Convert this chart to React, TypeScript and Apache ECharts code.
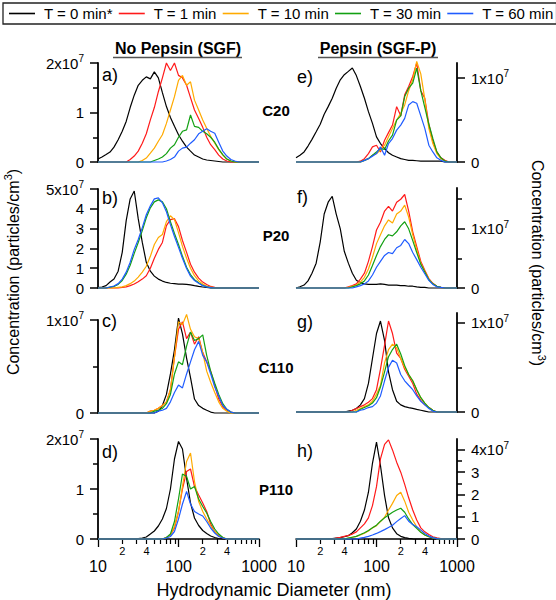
import { useEffect, useRef } from "react";
import * as echarts from "echarts";

const FONT = '"Liberation Sans", Arial, Helvetica, sans-serif';

// Hydrodynamic diameter grid (nm), log spaced
const diameters = [10, 11.2, 12.6, 14.1, 15.8, 17.8, 20, 22.4, 25.1, 28.2, 31.6, 35.5, 39.8, 44.7, 50.1, 56.2, 63.1, 70.8, 79.4, 89.1, 100, 112, 126, 141, 158, 178, 200, 224, 251, 282, 316, 355, 398, 447, 501, 562, 631, 708, 794, 891, 1000];

const seriesNames = ["T = 0 min*", "T = 1 min", "T = 10 min", "T = 30 min", "T = 60 min"];
const seriesColors = ["#000000", "#ff1a1a", "#ffaa00", "#13a013", "#1f5cff"];

// Concentrations in units of 1e7 particles/cm3
// a) No Pepsin, C20
const a_t0 = [0.06, 0.1, 0.15, 0.2, 0.3, 0.45, 0.62, 0.82, 1.1, 1.35, 1.55, 1.65, 1.72, 1.68, 1.82, 1.7, 1.4, 1.12, 0.9, 0.72, 0.55, 0.42, 0.3, 0.22, 0.14, 0.1, 0.06, 0.04, 0.03, 0.02, 0.01, 0, 0, 0, 0, 0, 0, 0, 0, 0, 0];
const a_t1 = [0, 0, 0, 0, 0, 0, 0, 0, 0.05, 0.12, 0.22, 0.38, 0.57, 0.85, 1.1, 1.42, 1.7, 2.0, 1.85, 2.0, 1.75, 1.7, 1.55, 1.3, 1.05, 0.88, 0.7, 0.5, 0.35, 0.25, 0.14, 0.06, 0.02, 0, 0, 0, 0, 0, 0, 0, 0];
const a_t10 = [0, 0, 0, 0, 0, 0, 0, 0, 0, 0, 0, 0.03, 0.08, 0.18, 0.28, 0.42, 0.55, 0.78, 1.05, 1.32, 1.65, 1.75, 1.55, 1.62, 1.25, 1.05, 0.85, 0.68, 0.52, 0.38, 0.25, 0.14, 0.06, 0.02, 0, 0, 0, 0, 0, 0, 0];
const a_t30 = [0, 0, 0, 0, 0, 0, 0, 0, 0, 0, 0, 0, 0, 0, 0.03, 0.06, 0.1, 0.17, 0.28, 0.35, 0.5, 0.62, 0.65, 0.95, 0.72, 0.7, 0.62, 0.57, 0.5, 0.4, 0.26, 0.15, 0.06, 0.02, 0, 0, 0, 0, 0, 0, 0];
const a_t60 = [0, 0, 0, 0, 0, 0, 0, 0, 0, 0, 0, 0, 0, 0, 0, 0, 0, 0.02, 0.05, 0.1, 0.22, 0.28, 0.3, 0.38, 0.45, 0.57, 0.62, 0.67, 0.62, 0.58, 0.4, 0.22, 0.12, 0.05, 0.02, 0, 0, 0, 0, 0, 0];

// b) No Pepsin, P20
const b_t0 = [0.02, 0.05, 0.12, 0.3, 0.45, 0.85, 1.8, 3.4, 4.5, 4.9, 3.5, 2.3, 1.3, 0.85, 0.6, 0.45, 0.35, 0.28, 0.24, 0.22, 0.2, 0.2, 0.18, 0.16, 0.12, 0.08, 0.05, 0.03, 0.01, 0, 0, 0, 0, 0, 0, 0, 0, 0, 0, 0, 0];
const b_t1 = [0, 0, 0, 0, 0, 0, 0.03, 0.06, 0.12, 0.2, 0.32, 0.45, 0.62, 1.0, 1.5, 1.95, 2.3, 3.15, 3.45, 3.5, 3.1, 2.4, 1.8, 1.2, 0.8, 0.5, 0.3, 0.18, 0.08, 0.03, 0.01, 0, 0, 0, 0, 0, 0, 0, 0, 0, 0];
const b_t10 = [0, 0, 0, 0, 0, 0.03, 0.06, 0.12, 0.22, 0.35, 0.55, 0.8, 1.1, 1.6, 2.2, 2.55, 2.7, 3.35, 3.65, 3.45, 2.8, 2.1, 1.5, 1.0, 0.62, 0.36, 0.2, 0.1, 0.04, 0.01, 0, 0, 0, 0, 0, 0, 0, 0, 0, 0, 0];
const b_t30 = [0, 0, 0, 0.04, 0.08, 0.18, 0.38, 0.7, 1.15, 1.75, 2.3, 2.9, 3.55, 4.05, 4.35, 4.45, 4.35, 4.0, 3.35, 2.75, 2.2, 1.6, 1.05, 0.68, 0.42, 0.26, 0.13, 0.06, 0.02, 0, 0, 0, 0, 0, 0, 0, 0, 0, 0, 0, 0];
const b_t60 = [0, 0, 0, 0.05, 0.1, 0.22, 0.45, 0.8, 1.3, 1.95, 2.45, 3.05, 3.7, 4.15, 4.5, 4.55, 4.3, 3.85, 3.2, 2.6, 2.05, 1.5, 0.98, 0.6, 0.38, 0.24, 0.12, 0.06, 0.02, 0, 0, 0, 0, 0, 0, 0, 0, 0, 0, 0, 0];

// c) No Pepsin, C110
const c_t0 = [0, 0, 0, 0, 0, 0, 0, 0, 0, 0, 0, 0, 0, 0, 0, 0.02, 0.08, 0.2, 0.42, 0.68, 1.02, 0.85, 0.59, 0.38, 0.15, 0.08, 0.05, 0.03, 0.01, 0, 0, 0, 0, 0, 0, 0, 0, 0, 0, 0, 0];
const c_t1 = [0, 0, 0, 0, 0, 0, 0, 0, 0, 0, 0, 0, 0, 0.02, 0.03, 0.05, 0.08, 0.12, 0.25, 0.6, 0.9, 0.98, 0.8, 0.87, 0.74, 0.82, 0.65, 0.55, 0.45, 0.3, 0.15, 0.07, 0.03, 0.01, 0, 0, 0, 0, 0, 0, 0];
const c_t10 = [0, 0, 0, 0, 0, 0, 0, 0, 0, 0, 0, 0, 0, 0.02, 0.03, 0.05, 0.08, 0.12, 0.25, 0.6, 0.98, 0.95, 1.06, 0.9, 0.82, 0.8, 0.65, 0.45, 0.33, 0.22, 0.12, 0.05, 0.02, 0, 0, 0, 0, 0, 0, 0, 0];
const c_t30 = [0, 0, 0, 0, 0, 0, 0, 0, 0, 0, 0, 0, 0, 0, 0.02, 0.03, 0.05, 0.1, 0.2, 0.42, 0.55, 0.52, 0.72, 0.87, 0.78, 0.8, 0.84, 0.62, 0.45, 0.32, 0.2, 0.1, 0.04, 0.01, 0, 0, 0, 0, 0, 0, 0];
const c_t60 = [0, 0, 0, 0, 0, 0, 0, 0, 0, 0, 0, 0, 0, 0, 0, 0.02, 0.03, 0.05, 0.12, 0.22, 0.3, 0.27, 0.42, 0.55, 0.68, 0.77, 0.62, 0.55, 0.42, 0.28, 0.18, 0.08, 0.04, 0.01, 0, 0, 0, 0, 0, 0, 0];

// d) No Pepsin, P110
const d_t0 = [0, 0, 0, 0, 0, 0, 0, 0, 0, 0, 0.01, 0.02, 0.04, 0.1, 0.16, 0.26, 0.4, 0.61, 1.0, 1.6, 1.95, 1.8, 1.21, 0.72, 0.42, 0.27, 0.17, 0.11, 0.06, 0.03, 0.01, 0, 0, 0, 0, 0, 0, 0, 0, 0, 0];
const d_t1 = [0, 0, 0, 0, 0, 0, 0, 0, 0, 0, 0, 0, 0, 0, 0, 0, 0, 0.03, 0.08, 0.22, 0.55, 1.0, 1.35, 1.4, 1.05, 0.88, 0.72, 0.55, 0.3, 0.15, 0.06, 0.02, 0, 0, 0, 0, 0, 0, 0, 0, 0];
const d_t10 = [0, 0, 0, 0, 0, 0, 0, 0, 0, 0, 0, 0, 0, 0, 0, 0, 0, 0.03, 0.08, 0.25, 0.55, 1.05, 1.55, 1.72, 1.15, 0.75, 0.55, 0.4, 0.26, 0.15, 0.08, 0.03, 0, 0, 0, 0, 0, 0, 0, 0, 0];
const d_t30 = [0, 0, 0, 0, 0, 0, 0, 0, 0, 0, 0, 0, 0, 0, 0, 0, 0, 0.03, 0.1, 0.35, 0.8, 1.3, 1.25, 1.0, 1.05, 0.8, 0.65, 0.52, 0.35, 0.2, 0.1, 0.03, 0, 0, 0, 0, 0, 0, 0, 0, 0];
const d_t60 = [0, 0, 0, 0, 0, 0, 0, 0, 0, 0, 0, 0, 0, 0, 0, 0, 0, 0.02, 0.05, 0.15, 0.4, 0.7, 0.95, 0.7, 0.55, 0.5, 0.46, 0.35, 0.22, 0.12, 0.05, 0.02, 0, 0, 0, 0, 0, 0, 0, 0, 0];

// e) Pepsin, C20
const e_t0 = [0.05, 0.08, 0.12, 0.19, 0.27, 0.36, 0.45, 0.57, 0.66, 0.76, 0.88, 0.98, 1.04, 1.08, 1.12, 1.03, 0.9, 0.76, 0.6, 0.46, 0.3, 0.22, 0.16, 0.11, 0.08, 0.06, 0.04, 0.03, 0.02, 0.02, 0.015, 0.01, 0.01, 0.01, 0.01, 0.01, 0.01, 0, 0, 0, 0];
const e_t1 = [0, 0, 0, 0, 0, 0, 0, 0, 0, 0, 0, 0, 0, 0, 0, 0, 0.01, 0.04, 0.1, 0.18, 0.2, 0.12, 0.26, 0.35, 0.44, 0.66, 0.55, 0.8, 0.9, 1.02, 1.18, 0.85, 0.76, 0.45, 0.25, 0.12, 0.05, 0.02, 0, 0, 0];
const e_t10 = [0, 0, 0, 0, 0, 0, 0, 0, 0, 0, 0, 0, 0, 0, 0, 0, 0, 0.02, 0.04, 0.08, 0.1, 0.14, 0.2, 0.3, 0.4, 0.5, 0.58, 0.68, 0.85, 0.98, 1.2, 1.05, 0.75, 0.4, 0.22, 0.1, 0.04, 0.01, 0, 0, 0];
const e_t30 = [0, 0, 0, 0, 0, 0, 0, 0, 0, 0, 0, 0, 0, 0, 0, 0, 0, 0.02, 0.04, 0.08, 0.12, 0.16, 0.15, 0.25, 0.32, 0.5, 0.55, 0.78, 0.88, 0.94, 1.12, 0.85, 0.65, 0.45, 0.28, 0.12, 0.05, 0.01, 0, 0, 0];
const e_t60 = [0, 0, 0, 0, 0, 0, 0, 0, 0, 0, 0, 0, 0, 0, 0, 0, 0, 0.02, 0.04, 0.07, 0.1, 0.18, 0.08, 0.22, 0.28, 0.38, 0.44, 0.52, 0.68, 0.72, 0.7, 0.55, 0.4, 0.2, 0.12, 0.05, 0.02, 0, 0, 0, 0];

// f) Pepsin, P20
const f_t0 = [0, 0.02, 0.05, 0.12, 0.25, 0.42, 0.78, 1.25, 1.45, 1.55, 1.25, 1.0, 0.62, 0.42, 0.25, 0.13, 0.09, 0.07, 0.06, 0.06, 0.06, 0.07, 0.06, 0.05, 0.05, 0.05, 0.04, 0.04, 0.03, 0.03, 0.02, 0.01, 0.01, 0, 0, 0, 0, 0, 0, 0, 0];
const f_t1 = [0, 0, 0, 0, 0, 0, 0, 0, 0, 0, 0, 0, 0, 0.02, 0.04, 0.07, 0.15, 0.25, 0.45, 0.7, 0.98, 1.11, 1.3, 1.38, 1.3, 1.45, 1.5, 1.58, 1.3, 0.95, 0.7, 0.45, 0.3, 0.16, 0.08, 0.03, 0.01, 0, 0, 0, 0];
const f_t10 = [0, 0, 0, 0, 0, 0, 0, 0, 0, 0, 0, 0, 0, 0.01, 0.03, 0.05, 0.1, 0.18, 0.32, 0.52, 0.75, 0.9, 1.05, 1.15, 1.1, 1.25, 1.3, 1.4, 1.2, 0.9, 0.65, 0.42, 0.28, 0.15, 0.07, 0.03, 0.01, 0, 0, 0, 0];
const f_t30 = [0, 0, 0, 0, 0, 0, 0, 0, 0, 0, 0, 0, 0, 0, 0.02, 0.04, 0.07, 0.12, 0.22, 0.38, 0.55, 0.7, 0.82, 0.9, 0.88, 0.95, 1.05, 1.12, 1.0, 0.8, 0.6, 0.4, 0.27, 0.14, 0.07, 0.03, 0.01, 0, 0, 0, 0];
const f_t60 = [0, 0, 0, 0, 0, 0, 0, 0, 0, 0, 0, 0, 0, 0, 0, 0.02, 0.04, 0.07, 0.12, 0.22, 0.35, 0.45, 0.55, 0.6, 0.58, 0.68, 0.72, 0.82, 0.75, 0.6, 0.48, 0.35, 0.24, 0.13, 0.06, 0.02, 0.01, 0, 0, 0, 0];

// g) Pepsin, C110
const g_t0 = [0, 0, 0, 0, 0, 0, 0, 0, 0, 0, 0, 0, 0, 0.01, 0.02, 0.04, 0.08, 0.15, 0.32, 0.6, 0.88, 1.02, 0.8, 0.45, 0.25, 0.12, 0.08, 0.06, 0.05, 0.04, 0.03, 0.02, 0.01, 0, 0, 0, 0, 0, 0, 0, 0];
const g_t1 = [0, 0, 0, 0, 0, 0, 0, 0, 0, 0, 0, 0, 0, 0, 0.02, 0.04, 0.06, 0.08, 0.11, 0.15, 0.25, 0.48, 0.75, 1.02, 0.88, 0.66, 0.6, 0.48, 0.4, 0.32, 0.2, 0.13, 0.08, 0.05, 0.02, 0, 0, 0, 0, 0, 0];
const g_t10 = [0, 0, 0, 0, 0, 0, 0, 0, 0, 0, 0, 0, 0, 0, 0, 0.02, 0.04, 0.06, 0.08, 0.12, 0.2, 0.3, 0.55, 0.7, 0.76, 0.72, 0.6, 0.5, 0.42, 0.35, 0.25, 0.16, 0.1, 0.05, 0.02, 0, 0, 0, 0, 0, 0];
const g_t30 = [0, 0, 0, 0, 0, 0, 0, 0, 0, 0, 0, 0, 0, 0, 0, 0, 0.03, 0.05, 0.07, 0.1, 0.16, 0.28, 0.45, 0.62, 0.7, 0.76, 0.65, 0.52, 0.42, 0.35, 0.25, 0.16, 0.1, 0.05, 0.02, 0, 0, 0, 0, 0, 0];
const g_t60 = [0, 0, 0, 0, 0, 0, 0, 0, 0, 0, 0, 0, 0, 0, 0, 0, 0.02, 0.03, 0.05, 0.06, 0.1, 0.18, 0.35, 0.5, 0.58, 0.55, 0.42, 0.35, 0.3, 0.25, 0.18, 0.12, 0.08, 0.04, 0.01, 0, 0, 0, 0, 0, 0];

// h) Pepsin, P110
const h_t0 = [0, 0, 0, 0, 0, 0, 0, 0, 0.01, 0.02, 0.04, 0.06, 0.1, 0.15, 0.28, 0.45, 0.8, 1.3, 2.1, 3.4, 4.35, 3.3, 1.95, 0.95, 0.5, 0.24, 0.12, 0.06, 0.03, 0.01, 0, 0, 0, 0, 0, 0, 0, 0, 0, 0, 0];
const h_t1 = [0, 0, 0, 0, 0, 0, 0, 0, 0, 0, 0.04, 0.07, 0.12, 0.16, 0.22, 0.32, 0.5, 0.68, 0.95, 1.5, 2.35, 3.6, 4.25, 4.45, 4.0, 3.45, 3.0, 2.45, 1.85, 1.3, 0.85, 0.5, 0.32, 0.2, 0.1, 0.05, 0.02, 0.01, 0, 0, 0];
const h_t10 = [0, 0, 0, 0, 0, 0, 0, 0, 0, 0, 0, 0, 0, 0.04, 0.08, 0.12, 0.18, 0.26, 0.36, 0.5, 0.6, 0.78, 0.98, 1.3, 1.6, 1.95, 2.1, 1.7, 1.2, 0.85, 0.55, 0.32, 0.18, 0.1, 0.05, 0.02, 0, 0, 0, 0, 0];
const h_t30 = [0, 0, 0, 0, 0, 0, 0, 0, 0, 0, 0, 0, 0, 0.04, 0.08, 0.12, 0.2, 0.28, 0.38, 0.5, 0.62, 0.8, 0.95, 1.08, 1.2, 1.3, 1.38, 1.2, 0.9, 0.65, 0.48, 0.3, 0.18, 0.1, 0.05, 0.02, 0, 0, 0, 0, 0];
const h_t60 = [0, 0, 0, 0, 0, 0, 0, 0, 0, 0, 0, 0, 0, 0, 0, 0, 0.04, 0.07, 0.12, 0.18, 0.25, 0.33, 0.42, 0.52, 0.62, 0.78, 0.92, 1.05, 0.8, 0.65, 0.55, 0.4, 0.25, 0.13, 0.06, 0.02, 0, 0, 0, 0, 0];

// axis ticks
const xMajorTicks = [10, 100, 1000];
const xMinorTicks = [20, 30, 40, 50, 60, 70, 80, 90, 200, 300, 400, 500, 600, 700, 800, 900];
const xMinorLabels = [20, 40, 200, 400];

const sampleNames = ["C20", "P20", "C110", "P110"];
const panelLetters = ["a)", "b)", "c)", "d)", "e)", "f)", "g)", "h)"];

interface PanelDef {
  col: number;
  row: number;
  top: number;
  height: number;
  max: number;
  major: number[];
  minor: number[];
  labelTop: number;
  letterY: number;
  values: number[][];
}

const panels: PanelDef[] = [
  { col: 0, row: 0, top: 63, height: 99, max: 2, major: [0, 1, 2], minor: [0.5, 1.5], labelTop: 2, letterY: 75, values: [a_t0, a_t1, a_t10, a_t30, a_t60] },
  { col: 0, row: 1, top: 189, height: 99, max: 5, major: [0, 1, 2, 3, 4, 5], minor: [], labelTop: 5, letterY: 198, values: [b_t0, b_t1, b_t10, b_t30, b_t60] },
  { col: 0, row: 2, top: 320, height: 93, max: 1, major: [0, 1], minor: [0.5], labelTop: 1, letterY: 321, values: [c_t0, c_t1, c_t10, c_t30, c_t60] },
  { col: 0, row: 3, top: 439, height: 100, max: 2, major: [0, 1, 2], minor: [0.5, 1.5], labelTop: 2, letterY: 452, values: [d_t0, d_t1, d_t10, d_t30, d_t60] },
  { col: 1, row: 0, top: 63, height: 99, max: 1.18, major: [0, 1], minor: [0.5], labelTop: 1, letterY: 77, values: [e_t0, e_t1, e_t10, e_t30, e_t60] },
  { col: 1, row: 1, top: 188, height: 100, max: 1.69, major: [0, 1], minor: [0.5, 1.5], labelTop: 1, letterY: 197, values: [f_t0, f_t1, f_t10, f_t30, f_t60] },
  { col: 1, row: 2, top: 313, height: 99, max: 1.11, major: [0, 1], minor: [0.5], labelTop: 1, letterY: 322, values: [g_t0, g_t1, g_t10, g_t30, g_t60] },
  { col: 1, row: 3, top: 439, height: 100, max: 4.49, major: [0, 1, 2, 3, 4], minor: [0.5, 1.5, 2.5, 3.5, 4.5], labelTop: 4, letterY: 451, values: [h_t0, h_t1, h_t10, h_t30, h_t60] },
];

function buildOption() {
  const colLeft = [98, 296];
  const plotW = 161;
  const grid: any[] = [];
  const xAxis: any[] = [];
  const yAxis: any[] = [];
  const series: any[] = [];
  const graphic: any[] = [];

  panels.forEach((p, k) => {
    const bottomRow = p.row === 3;
    grid.push({ left: colLeft[p.col], top: p.top, width: plotW, height: p.height, containLabel: false, outerBoundsMode: "none" });
    // major x axis
    xAxis.push({
      type: "log", logBase: 10, min: 10, max: 1000, gridIndex: k, position: "bottom",
      show: bottomRow,
      axisLine: { show: bottomRow, onZero: false, lineStyle: { color: "#000", width: 1.5 } },
      axisTick: { show: bottomRow, customValues: xMajorTicks, length: 8, lineStyle: { color: "#000", width: 1.3 } },
      axisLabel: { show: bottomRow, customValues: xMajorTicks, margin: 19, fontSize: 16, color: "#000", fontFamily: FONT, formatter: (v: number) => String(Math.round(v)) },
      splitLine: { show: false }, minorTick: { show: false }, minorSplitLine: { show: false },
    });
    // minor x axis
    xAxis.push({
      type: "log", logBase: 10, min: 10, max: 1000, gridIndex: k, position: "bottom",
      show: bottomRow,
      axisLine: { show: false, onZero: false },
      axisTick: { show: bottomRow, customValues: xMinorTicks, length: 5, lineStyle: { color: "#000", width: 1.2 } },
      axisLabel: { show: bottomRow, customValues: xMinorLabels, margin: 6, fontSize: 11, color: "#000", fontFamily: FONT, formatter: (v: number) => String(Math.round(v)).charAt(0) },
      splitLine: { show: false },
    });
    const pos = p.col === 0 ? "left" : "right";
    const labelTop = p.labelTop;
    yAxis.push({
      type: "value", min: 0, max: p.max, gridIndex: k, position: pos,
      axisLine: { show: true, onZero: false, lineStyle: { color: "#000", width: 1.8 } },
      axisTick: { show: true, customValues: p.major, length: 8, lineStyle: { color: "#000", width: 1.5 } },
      axisLabel: {
        show: true, customValues: p.major, margin: 14, color: "#000", fontFamily: FONT, fontSize: 15,
        formatter: (v: number) => (Math.abs(v - labelTop) < 1e-9 ? `{m|${Math.round(v)}x10}{s|7}` : `{m|${Math.round(v)}}`),
        rich: {
          m: { fontSize: 15, fontFamily: FONT, color: "#000" },
          s: { fontSize: 10, fontFamily: FONT, color: "#000", padding: [0, 0, 9, 0] },
        },
      },
      splitLine: { show: false },
    });
    yAxis.push({
      type: "value", min: 0, max: p.max, gridIndex: k, position: pos,
      axisLine: { show: false },
      axisTick: { show: p.minor.length > 0, customValues: p.minor.length ? p.minor : [0], length: 5, lineStyle: { color: "#000", width: 1.5 } },
      axisLabel: { show: false },
      splitLine: { show: false },
    });
    p.values.forEach((vals, s) => {
      series.push({
        type: "line",
        name: seriesNames[s],
        xAxisIndex: 2 * k,
        yAxisIndex: 2 * k,
        data: diameters.map((d, j) => [d, vals[j]]),
        showSymbol: false,
        symbol: "none",
        clip: false,
        silent: true,
        animation: false,
        lineStyle: { color: seriesColors[s], width: 1.2 },
        itemStyle: { color: seriesColors[s] },
        emphasis: { disabled: true },
        z: 2 + s,
      });
    });
    graphic.push({
      type: "text",
      x: p.col === 0 ? 102 : 297,
      y: p.letterY,
      style: { text: panelLetters[k], fontSize: 18, fontFamily: FONT, fill: "#000", verticalAlign: "middle", align: "left" },
    });
  });

  // sample names in the middle
  const sampleY = [110, 235, 367, 489];
  sampleNames.forEach((n, r) => {
    graphic.push({
      type: "text", x: 276, y: sampleY[r],
      style: { text: n, fontSize: 15, fontWeight: "bold", fontFamily: FONT, fill: "#000", align: "center", verticalAlign: "middle" },
    });
  });

  // column titles
  graphic.push(
    { type: "text", x: 178, y: 48, style: { text: "No Pepsin (SGF)", fontSize: 16, fontWeight: "bold", fontFamily: FONT, fill: "#000", align: "center", verticalAlign: "middle" } },
    { type: "line", shape: { x1: 113, y1: 57.5, x2: 242, y2: 57.5 }, style: { stroke: "#555", lineWidth: 1.5 } },
    { type: "text", x: 378, y: 48, style: { text: "Pepsin (SGF-P)", fontSize: 16, fontWeight: "bold", fontFamily: FONT, fill: "#000", align: "center", verticalAlign: "middle" } },
    { type: "line", shape: { x1: 318, y1: 57.5, x2: 438, y2: 57.5 }, style: { stroke: "#555", lineWidth: 1.5 } },
  );

  // axis titles
  const richTitle = {
    n: { fontSize: 16, fontFamily: FONT, fill: "#000", color: "#000" },
    s: { fontSize: 11, fontFamily: FONT, fill: "#000", color: "#000", padding: [0, 0, 10, 0] },
  };
  graphic.push(
    {
      type: "text", x: 13, y: 272, rotation: Math.PI / 2,
      style: { text: "{n|Concentration (particles/cm}{s|3}{n|)}", rich: richTitle, align: "center", verticalAlign: "middle", fill: "#000" },
    },
    {
      type: "text", x: 537, y: 263, rotation: -Math.PI / 2,
      style: { text: "{n|Concentration (particles/cm}{s|3}{n|)}", rich: richTitle, align: "center", verticalAlign: "middle", fill: "#000" },
    },
    {
      type: "text", x: 274, y: 590,
      style: { text: "Hydrodynamic Diameter (nm)", fontSize: 18, fontFamily: FONT, fill: "#000", align: "center", verticalAlign: "middle" },
    },
  );

  return {
    animation: false,
    backgroundColor: "#ffffff",
    legend: {
      data: seriesNames,
      left: 3,
      top: 3,
      width: 600,
      orient: "horizontal",
      icon: "rect",
      itemWidth: 26,
      itemHeight: 1.6,
      itemGap: 6,
      padding: [3, 3, 3, 6],
      borderColor: "#222",
      borderWidth: 1.3,
      selectedMode: false,
      textStyle: { fontSize: 15, color: "#000", fontFamily: FONT, padding: [0, 0, 0, 4] },
    },
    grid,
    xAxis,
    yAxis,
    series,
    graphic,
  };
}

export default function App() {
  const ref = useRef<HTMLDivElement>(null);
  useEffect(() => {
    if (!ref.current) return;
    const chart = echarts.init(ref.current, null, { renderer: "svg" });
    chart.setOption(buildOption() as any);
    return () => {
      chart.dispose();
    };
  }, []);
  return (
    <div
      ref={ref}
      style={{ position: "fixed", left: 0, top: 0, width: 556, height: 600, background: "#fff" }}
    />
  );
}
